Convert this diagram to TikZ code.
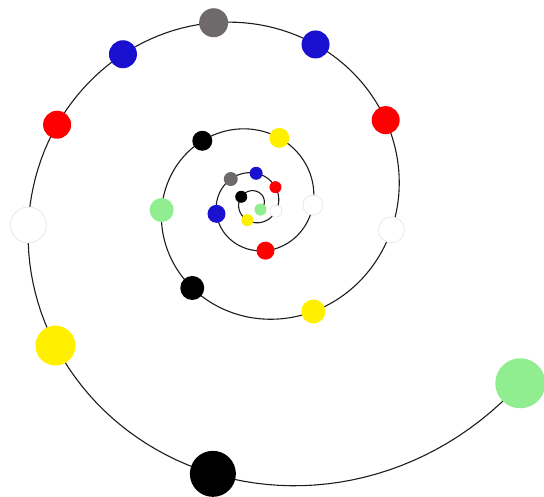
\documentclass[tikz,border=0pt]{standalone}
\usepackage{xcolor}
\definecolor{mInk}{HTML}{1C1C1C}
\definecolor{mLightGreen}{HTML}{90EE90}
\definecolor{mYellow}{HTML}{FFF000}
\definecolor{mRed}{HTML}{FF0000}
\definecolor{mBlue}{HTML}{1A10D0}
\definecolor{mGrey}{HTML}{6E6A6C}
\definecolor{mPaleRim}{HTML}{E2E2E2}
\usepackage{tikz}

\begin{document}
\begin{tikzpicture}[x=1pt, y=1pt,
  declare function={spr(\a)=24.21*exp(0.0024794*\a);},
  ball/.style={circle, inner sep=0pt, draw=none},
  hollow/.style={ball, fill=white, draw=mPaleRim, line width=0.6pt}]
\useasboundingbox (-254.3,-292.8) rectangle (289.7,203.2);
% the spiral itself
\draw[mInk, line width=1.1pt, domain=-405.8:1045.9, samples=600, variable=\a] plot ({\a}:{spr(\a)});
% dots along it, from the centre outwards
\node[ball, fill=mLightGreen, minimum size=12pt] (G0) at ({-405.8}:{spr(-405.8)}) {};
\node[ball, fill=black, minimum size=12pt] (K1) at ({-206.1}:{spr(-206.1)}) {};
\node[ball, fill=mYellow, minimum size=12pt] (Y2) at ({-112.3}:{spr(-112.3)}) {};
\node[hollow, minimum size=12pt] (W3) at ({-20.4}:{spr(-20.4)}) {};
\node[ball, fill=mRed, minimum size=12pt] (R4) at ({37.2}:{spr(37.2)}) {};
\node[ball, fill=mBlue, minimum size=13pt] (B5) at ({86.5}:{spr(86.5)}) {};
\node[ball, fill=mGrey, minimum size=14pt] (S6) at ({134.2}:{spr(134.2)}) {};
\node[ball, fill=mBlue, minimum size=18pt] (B7) at ({195.7}:{spr(195.7)}) {};
\node[ball, fill=mRed, minimum size=18pt] (R8) at ({283.3}:{spr(283.3)}) {};
\node[hollow, minimum size=20pt] (W9) at ({358.2}:{spr(358.2)}) {};
\node[ball, fill=mYellow, minimum size=20pt] (Y10) at ({429.1}:{spr(429.1)}) {};
\node[ball, fill=black, minimum size=20pt] (K11) at ({489.8}:{spr(489.8)}) {};
\node[ball, fill=mLightGreen, minimum size=24pt] (G12) at ({544.2}:{spr(544.2)}) {};
\node[ball, fill=black, minimum size=24pt] (K13) at ({593.8}:{spr(593.8)}) {};
\node[ball, fill=mYellow, minimum size=24pt] (Y14) at ({658.6}:{spr(658.6)}) {};
\node[hollow, minimum size=26pt] (W15) at ({709.0}:{spr(709.0)}) {};
\node[ball, fill=mRed, minimum size=28pt] (R16) at ({752.3}:{spr(752.3)}) {};
\node[ball, fill=mBlue, minimum size=28pt] (B17) at ({788.9}:{spr(788.9)}) {};
\node[ball, fill=mGrey, minimum size=29pt] (S18) at ({822.7}:{spr(822.7)}) {};
\node[ball, fill=mBlue, minimum size=28pt] (B19) at ({851.4}:{spr(851.4)}) {};
\node[ball, fill=mRed, minimum size=28pt] (R20) at ({878.3}:{spr(878.3)}) {};
\node[hollow, minimum size=36pt] (W21) at ({905.5}:{spr(905.5)}) {};
\node[ball, fill=mYellow, minimum size=40pt] (Y22) at ({935.6}:{spr(935.6)}) {};
\node[ball, fill=black, minimum size=46pt] (K23) at ({981.3}:{spr(981.3)}) {};
\node[ball, fill=mLightGreen, minimum size=50pt] (G24) at ({1045.9}:{spr(1045.9)}) {};
\end{tikzpicture}
\end{document}
